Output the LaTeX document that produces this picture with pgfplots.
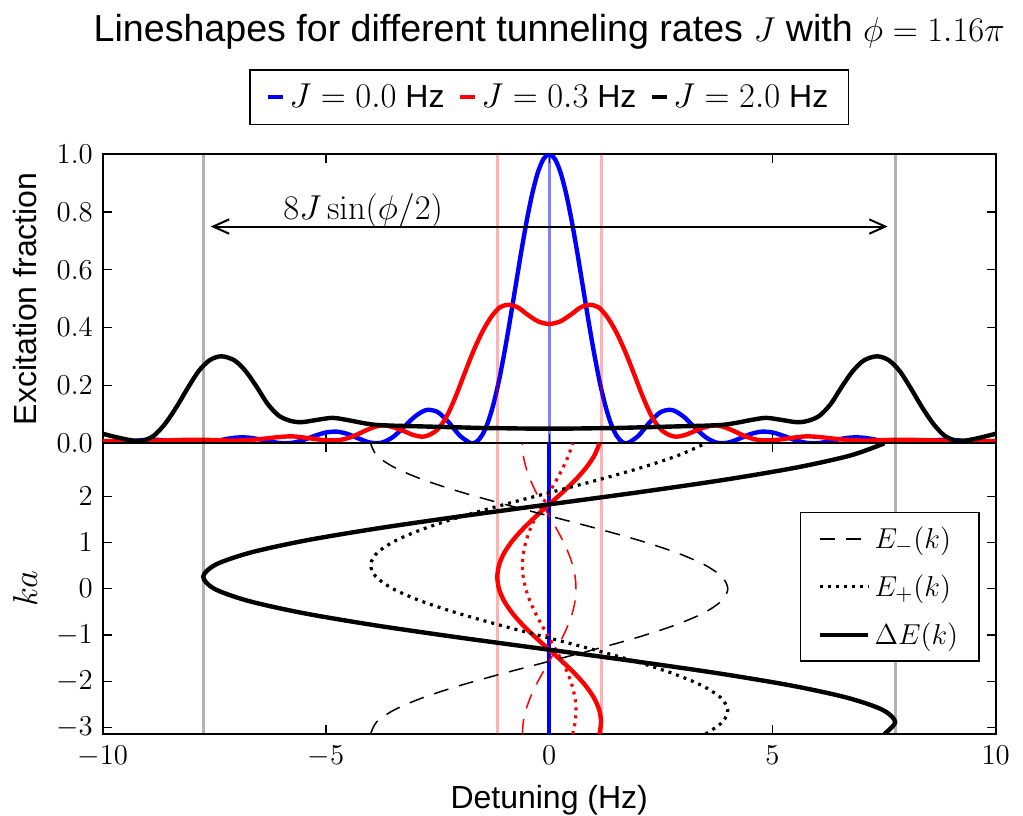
\documentclass[border=0pt]{standalone}
\usepackage[no-math]{fontspec}
\setmainfont{Liberation Sans}
\usepackage{pgfplots}
\usepackage{pgfplotstable}
\pgfplotsset{compat=1.18}
\usetikzlibrary{arrows.meta}

% band energies vs ka (J = 2.0 and J = 0.3)
\pgfplotstableread{
ka      Em2    Ep2    dE2    Em03   Ep03   dE03
-3.1416 -4.000  3.505  7.505 -0.600  0.526  1.126
-2.8798 -3.864  3.884  7.748 -0.580  0.583  1.162
-2.6180 -3.464  3.999  7.463 -0.520  0.600  1.119
-2.3562 -2.828  3.841  6.669 -0.424  0.576  1.000
-2.0944 -2.000  3.422  5.422 -0.300  0.513  0.813
-1.8326 -1.035  2.768  3.803 -0.155  0.415  0.570
-1.5708  0.000  1.927  1.927  0.000  0.289  0.289
-1.3090  1.035  0.954 -0.081  0.155  0.143 -0.012
-1.0472  2.000 -0.084 -2.084  0.300 -0.013 -0.313
-0.7854  2.828 -1.116 -3.944  0.424 -0.167 -0.592
-0.5236  3.464 -2.072 -5.536  0.520 -0.311 -0.830
-0.2618  3.864 -2.887 -6.751  0.580 -0.433 -1.013
 0.0000  4.000 -3.505 -7.505  0.600 -0.526 -1.126
 0.2618  3.864 -3.884 -7.748  0.580 -0.583 -1.162
 0.5236  3.464 -3.999 -7.463  0.520 -0.600 -1.119
 0.7854  2.828 -3.841 -6.669  0.424 -0.576 -1.000
 1.0472  2.000 -3.422 -5.422  0.300 -0.513 -0.813
 1.3090  1.035 -2.768 -3.803  0.155 -0.415 -0.570
 1.5708  0.000 -1.927 -1.927  0.000 -0.289 -0.289
 1.8326 -1.035 -0.954  0.081 -0.155 -0.143  0.012
 2.0944 -2.000  0.084  2.084 -0.300  0.013  0.313
 2.3562 -2.828  1.116  3.944 -0.424  0.167  0.592
 2.6180 -3.464  2.072  5.536 -0.520  0.311  0.830
 2.8798 -3.864  2.887  6.751 -0.580  0.433  1.013
 3.1416 -4.000  3.505  7.505 -0.600  0.526  1.126
}\bands

\pgfplotsset{
  common/.style={
    scale only axis, width=446.5pt,
    xmin=-10, xmax=10, xtick={-10,-5,0,5,10},
    tick align=inside, xtick pos=both, ytick pos=both,
    major tick length=4.5pt,
    every tick/.style={black, line width=0.6pt},
    axis line style={line width=1pt},
    tick label style={font=\fontsize{13.6}{15}\selectfont, inner sep=1pt},
    y tick label style={xshift=-3.8pt},
    every axis y label/.style={at={(-0.087,0.5)}, rotate=90, anchor=center,
      font=\fontsize{16}{19}\selectfont},
  },
}

\begin{document}
\begin{tikzpicture}
\useasboundingbox (0,0) rectangle (511.5pt,407.5pt);

% top: lineshapes
\begin{axis}[common,
  at={(51.35pt,185.85pt)}, anchor=south west, height=144.5pt,
  ymin=0, ymax=1, ytick={0,0.2,0.4,0.6,0.8,1},
  xticklabels={},
  y tick label style={/pgf/number format/.cd, fixed, fixed zerofill, precision=1, /tikz/.cd},
  ylabel={Excitation fraction},
  title={Lineshapes for different tunneling rates $J$ with $\phi=1.16\pi$},
  every axis title/.style={at={(0.5,1)}, anchor=base, yshift=56.3pt, font=\fontsize{18.8}{22}\selectfont},
  legend columns=3,
  legend style={at={(0.5,1.198)}, anchor=center, draw=black, line width=0.8pt,
    font=\fontsize{16}{19}\selectfont, inner xsep=8pt, inner ysep=5pt,
    nodes={inner sep=2pt}, /tikz/every even column/.append style={column sep=4.7pt}},
  legend image code/.code={\draw[#1] (0pt,0pt) -- (7.5pt,0pt);},
]
\addplot[blue, line width=2.2pt, smooth] coordinates {
(-10,0.0001) (-9.75,0.0010) (-9.5,0.0046) (-9.25,0.0091) (-9,0.0121) (-8.75,0.0117)
(-8.5,0.0081) (-8.25,0.0032) (-8,0.0002) (-7.75,0.0014) (-7.5,0.0069) (-7.25,0.0144)
(-7,0.0198) (-6.75,0.0199) (-6.5,0.0143) (-6.25,0.0061) (-6,0.0005) (-5.75,0.0019)
(-5.5,0.0115) (-5.25,0.0257) (-5,0.0375) (-4.75,0.0402) (-4.5,0.0315) (-4.25,0.0155)
(-4,0.0022) (-3.75,0.0023) (-3.5,0.0217) (-3.25,0.0566) (-3,0.0936) (-2.75,0.1152)
(-2.5,0.1082) (-2.25,0.0727) (-2,0.0263) (-1.75,0.0002) (-1.625,0.0057) (-1.5,0.0286)
(-1.375,0.0712) (-1.25,0.1346) (-1.125,0.2171) (-1,0.3166) (-0.875,0.4283) (-0.75,0.5463)
(-0.625,0.6636) (-0.5,0.7728) (-0.375,0.8667) (-0.25,0.9390) (-0.125,0.9845) (0,1.0000)
(0.125,0.9845) (0.25,0.9390) (0.375,0.8667) (0.5,0.7728) (0.625,0.6636) (0.75,0.5463)
(0.875,0.4283) (1,0.3166) (1.125,0.2171) (1.25,0.1346) (1.375,0.0712) (1.5,0.0286)
(1.625,0.0057) (1.75,0.0002) (2,0.0263) (2.25,0.0727) (2.5,0.1082) (2.75,0.1152)
(3,0.0936) (3.25,0.0566) (3.5,0.0217) (3.75,0.0023) (4,0.0022) (4.25,0.0155)
(4.5,0.0315) (4.75,0.0402) (5,0.0375) (5.25,0.0257) (5.5,0.0115) (5.75,0.0019)
(6,0.0005) (6.25,0.0061) (6.5,0.0143) (6.75,0.0199) (7,0.0198) (7.25,0.0144)
(7.5,0.0069) (7.75,0.0014) (8,0.0002) (8.25,0.0032) (8.5,0.0081) (8.75,0.0117)
(9,0.0121) (9.25,0.0091) (9.5,0.0046) (9.75,0.0010) (10,0.0001)
};
\addlegendentry{$J=0.0$ Hz}
\addplot[blue, draw opacity=0.5, line width=1.5pt, forget plot] coordinates {(0,0) (0,1)};
\addplot[red, line width=2.2pt, smooth] coordinates {
(-10,0.008) (-9.6,0.008) (-9.1,0.008) (-8.6,0.010) (-8.1,0.012) (-7.7,0.012) (-7.3,0.010)
(-6.9,0.010) (-6.5,0.014) (-6.1,0.021) (-5.75,0.024) (-5.4,0.018) (-5.1,0.012) (-4.85,0.010)
(-4.6,0.014) (-4.35,0.027) (-4.1,0.045) (-3.9,0.057) (-3.7,0.062) (-3.5,0.056) (-3.3,0.045)
(-3.05,0.029) (-2.85,0.023) (-2.7,0.028) (-2.5,0.048) (-2.3,0.092) (-2.1,0.160) (-1.9,0.240)
(-1.7,0.318) (-1.5,0.385) (-1.3,0.437) (-1.1,0.471) (-0.9,0.479) (-0.7,0.470) (-0.5,0.447)
(-0.25,0.422) (0,0.413)
(0.25,0.422) (0.5,0.447) (0.7,0.470) (0.9,0.479) (1.1,0.471) (1.3,0.437) (1.5,0.385)
(1.7,0.318) (1.9,0.240) (2.1,0.160) (2.3,0.092) (2.5,0.048) (2.7,0.028) (2.85,0.023)
(3.05,0.029) (3.3,0.045) (3.5,0.056) (3.7,0.062) (3.9,0.057) (4.1,0.045) (4.35,0.027)
(4.6,0.014) (4.85,0.010) (5.1,0.012) (5.4,0.018) (5.75,0.024) (6.1,0.021) (6.5,0.014)
(6.9,0.010) (7.3,0.010) (7.7,0.012) (8.1,0.012) (8.6,0.010) (9.1,0.008) (9.6,0.008) (10,0.008)
};
\addlegendentry{$J=0.3$ Hz}
\addplot[red, draw opacity=0.3, line width=1.5pt, forget plot] coordinates {(-1.162,0) (-1.162,1)};
\addplot[red, draw opacity=0.3, line width=1.5pt, forget plot] coordinates {(1.162,0) (1.162,1)};
\addplot[black, line width=2.2pt, smooth] coordinates {
(-10,0.033) (-9.8,0.025) (-9.55,0.016) (-9.3,0.009) (-9.1,0.009) (-8.85,0.027) (-8.6,0.068)
(-8.35,0.125) (-8.1,0.190) (-7.85,0.250) (-7.6,0.288) (-7.34,0.301) (-7.05,0.287) (-6.8,0.250)
(-6.55,0.195) (-6.3,0.135) (-6.05,0.095) (-5.8,0.078) (-5.55,0.073) (-5.2,0.081) (-4.85,0.088)
(-4.5,0.080) (-4.2,0.071) (-3.9,0.064) (-3.5,0.061) (-3,0.059) (-2.5,0.057) (-2,0.055)
(-1.5,0.053) (-1,0.052) (-0.5,0.051) (0,0.051)
(0.5,0.051) (1,0.052) (1.5,0.053) (2,0.055) (2.5,0.057) (3,0.059) (3.5,0.061) (3.9,0.064)
(4.2,0.071) (4.5,0.080) (4.85,0.088) (5.2,0.081) (5.55,0.073) (5.8,0.078) (6.05,0.095)
(6.3,0.135) (6.55,0.195) (6.8,0.250) (7.05,0.287) (7.34,0.301) (7.6,0.288) (7.85,0.250)
(8.1,0.190) (8.35,0.125) (8.6,0.068) (8.85,0.027) (9.1,0.009) (9.3,0.009) (9.55,0.016)
(9.8,0.025) (10,0.033)
};
\addlegendentry{$J=2.0$ Hz}
\addplot[black, draw opacity=0.3, line width=1.5pt, forget plot] coordinates {(-7.749,0) (-7.749,1)};
\addplot[black, draw opacity=0.3, line width=1.5pt, forget plot] coordinates {(7.749,0) (7.749,1)};
\draw[{Straight Barb[length=8pt,width=7.2pt]}-{Straight Barb[length=8pt,width=7.2pt]}, line width=1pt]
  (axis cs:-7.58,0.75) -- (axis cs:7.58,0.75);
\node[anchor=base west, inner sep=0pt, font=\fontsize{17}{20}\selectfont] at (axis cs:-5.96,0.776) {$8J\sin(\phi/2)$};
\end{axis}

% bottom: band structure
\begin{axis}[common,
  at={(51.35pt,40.5pt)}, anchor=south west, height=145.35pt,
  ymin=-3.1416, ymax=3.1416, ytick={-3,-2,-1,0,1,2},
  x tick label style={yshift=-5pt},
  xlabel={Detuning (Hz)}, ylabel={$ka$},
  every axis x label/.style={at={(0.5,0)}, anchor=base, yshift=-37pt,
    font=\fontsize{16}{19}\selectfont},
  legend cell align=left,
  legend style={at={(0.9824,0.7647)}, anchor=north east, draw=black, line width=0.8pt,
    font=\fontsize{15.3}{18}\selectfont, inner xsep=8.5pt, inner ysep=5pt,
    nodes={inner sep=2pt}, row sep=7.7pt},
  legend image code/.code={\draw[#1] (0pt,0pt) -- (24.3pt,0pt);},
]
\addplot[blue, line width=2.2pt, forget plot] coordinates {(0,-3.1416) (0,3.1416)};
\addplot[blue, draw opacity=0.5, line width=1.5pt, forget plot] coordinates {(0,-3.1416) (0,3.1416)};
\addplot[red, line width=0.75pt, dash pattern=on 7.5pt off 5.5pt, smooth, forget plot] table[x=Em03, y=ka] {\bands};
\addplot[red, line width=1.6pt, dash pattern=on 1.5pt off 2.5pt, smooth, forget plot] table[x=Ep03, y=ka] {\bands};
\addplot[red, line width=2.2pt, smooth, forget plot] table[x=dE03, y=ka] {\bands};
\addplot[red, draw opacity=0.3, line width=1.5pt, forget plot] coordinates {(-1.162,-3.1416) (-1.162,3.1416)};
\addplot[red, draw opacity=0.3, line width=1.5pt, forget plot] coordinates {(1.162,-3.1416) (1.162,3.1416)};
\addplot[black, line width=0.75pt, dash pattern=on 7.5pt off 5.5pt, smooth] table[x=Em2, y=ka] {\bands};
\addlegendentry{$E_-(k)$}
\addplot[black, line width=1.6pt, dash pattern=on 1.5pt off 2.5pt, smooth] table[x=Ep2, y=ka] {\bands};
\addlegendentry{$E_+(k)$}
\addplot[black, line width=2.2pt, smooth] table[x=dE2, y=ka] {\bands};
\addlegendentry{$\Delta E(k)$}
\addplot[black, draw opacity=0.3, line width=1.5pt, forget plot] coordinates {(-7.749,-3.1416) (-7.749,3.1416)};
\addplot[black, draw opacity=0.3, line width=1.5pt, forget plot] coordinates {(7.749,-3.1416) (7.749,3.1416)};
\end{axis}
\end{tikzpicture}
\end{document}
